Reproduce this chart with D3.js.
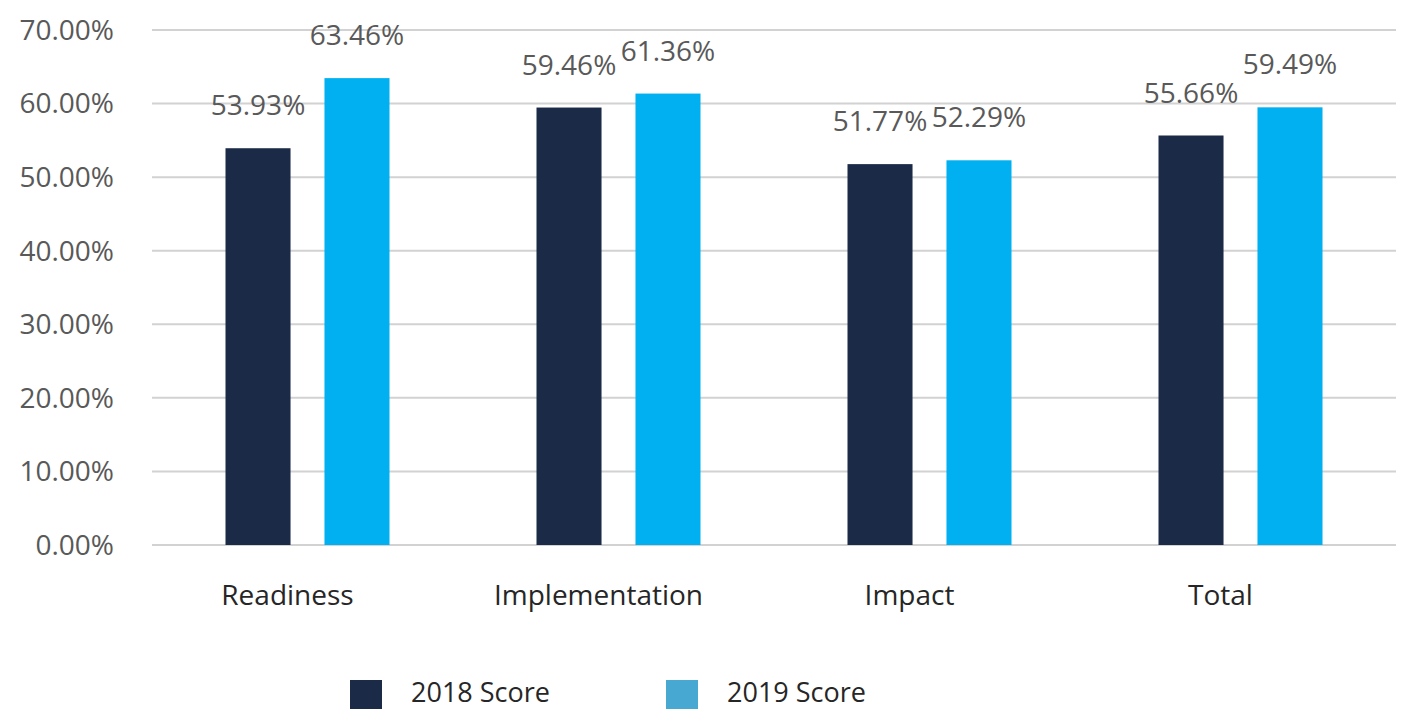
<!DOCTYPE html>
<html>
<head>
<meta charset="utf-8">
<script src="https://cdn.jsdelivr.net/npm/d3@7"></script>
<style>
  body { margin: 0; background: #fff; }
  svg { display: block; font-family: "Open Sans", sans-serif; }
</style>
</head>
<body>
<svg id="chart" width="1402" height="709"></svg>
<script>
// chart data
var categories = ["Readiness", "Implementation", "Impact", "Total"];
var seriesNames = ["2018 Score", "2019 Score"];
var score2018 = [53.93, 59.46, 51.77, 55.66];
var score2019 = [63.46, 61.36, 52.29, 59.49];
var yTicks = [0, 10, 20, 30, 40, 50, 60, 70];

var barColors = ["#1b2a47", "#00b0f0"];
var legendColors = ["#1b2a47", "#47a9d1"];

var svg = d3.select("#chart");

var plotLeft = 152, plotRight = 1396, plotTop = 30, plotBottom = 545;

var x0 = d3.scaleBand()
    .domain(categories)
    .range([plotLeft, plotRight])
    .padding(0);

// bars sit in the middle 164px of each 311px band
var x1 = d3.scaleBand()
    .domain(seriesNames)
    .range([x0.bandwidth() / 2 - 82, x0.bandwidth() / 2 + 82])
    .paddingInner(0.343);

var y = d3.scaleLinear()
    .domain([0, 70])
    .range([plotBottom, plotTop]);

/**
 * Gridlines and y tick labels
 */
var grid = svg.append("g").attr("class", "grid");

grid.selectAll("line")
    .data(yTicks)
    .enter()
    .append("line")
    .attr("x1", plotLeft)
    .attr("x2", plotRight)
    .attr("y1", function (d) { return y(d); })
    .attr("y2", function (d) { return y(d); })
    .attr("stroke", "#d2d2d2")
    .attr("stroke-width", 2);

grid.selectAll("text")
    .data(yTicks)
    .enter()
    .append("text")
    .attr("x", 114)
    .attr("y", function (d) { return y(d); })
    .attr("dy", "0.35em")
    .attr("text-anchor", "end")
    .style("font-size", "28px")
    .style("fill", "#595959")
    .text(function (d) { return d3.format(".2f")(d) + "%"; });

/**
 * Bars and data labels
 */
var rows = categories.map(function (c, i) {
    return {
        category: c,
        values: [
            { series: seriesNames[0], value: score2018[i], color: barColors[0] },
            { series: seriesNames[1], value: score2019[i], color: barColors[1] }
        ]
    };
});

var groups = svg.append("g")
    .attr("class", "bars")
    .selectAll("g")
    .data(rows)
    .enter()
    .append("g")
    .attr("transform", function (d) { return "translate(" + x0(d.category) + ",0)"; });

groups.selectAll("rect")
    .data(function (d) { return d.values; })
    .enter()
    .append("rect")
    .attr("x", function (d) { return x1(d.series); })
    .attr("y", function (d) { return y(d.value); })
    .attr("width", x1.bandwidth())
    .attr("height", function (d) { return y(0) - y(d.value); })
    .attr("fill", function (d) { return d.color; });

groups.selectAll("text")
    .data(function (d) { return d.values; })
    .enter()
    .append("text")
    .attr("x", function (d) { return x1(d.series) + x1.bandwidth() / 2; })
    .attr("y", function (d) { return y(d.value) - 33; })
    .attr("text-anchor", "middle")
    .style("font-size", "28px")
    .style("fill", "#595959")
    .text(function (d) { return d3.format(".2f")(d.value) + "%"; });

/**
 * Category labels
 */
svg.append("g")
    .attr("class", "x-labels")
    .selectAll("text")
    .data(categories)
    .enter()
    .append("text")
    .attr("x", function (d) { return x0(d) + x0.bandwidth() / 2 - 20; })
    .attr("y", 605)
    .attr("text-anchor", "middle")
    .style("font-size", "28px")
    .style("fill", "#262626")
    .text(function (d) { return d; });

/**
 * Legend
 */
var legendX = [350, 666];
var legend = svg.append("g")
    .attr("class", "legend")
    .selectAll("g")
    .data(seriesNames)
    .enter()
    .append("g")
    .attr("transform", function (d, i) { return "translate(" + legendX[i] + ",680)"; });

legend.append("rect")
    .attr("width", 32)
    .attr("height", 29)
    .attr("fill", function (d, i) { return legendColors[i]; });

legend.append("text")
    .attr("x", 61)
    .attr("y", 22)
    .style("font-size", "27px")
    .style("fill", "#262626")
    .text(function (d) { return d; });
</script>
</body>
</html>
